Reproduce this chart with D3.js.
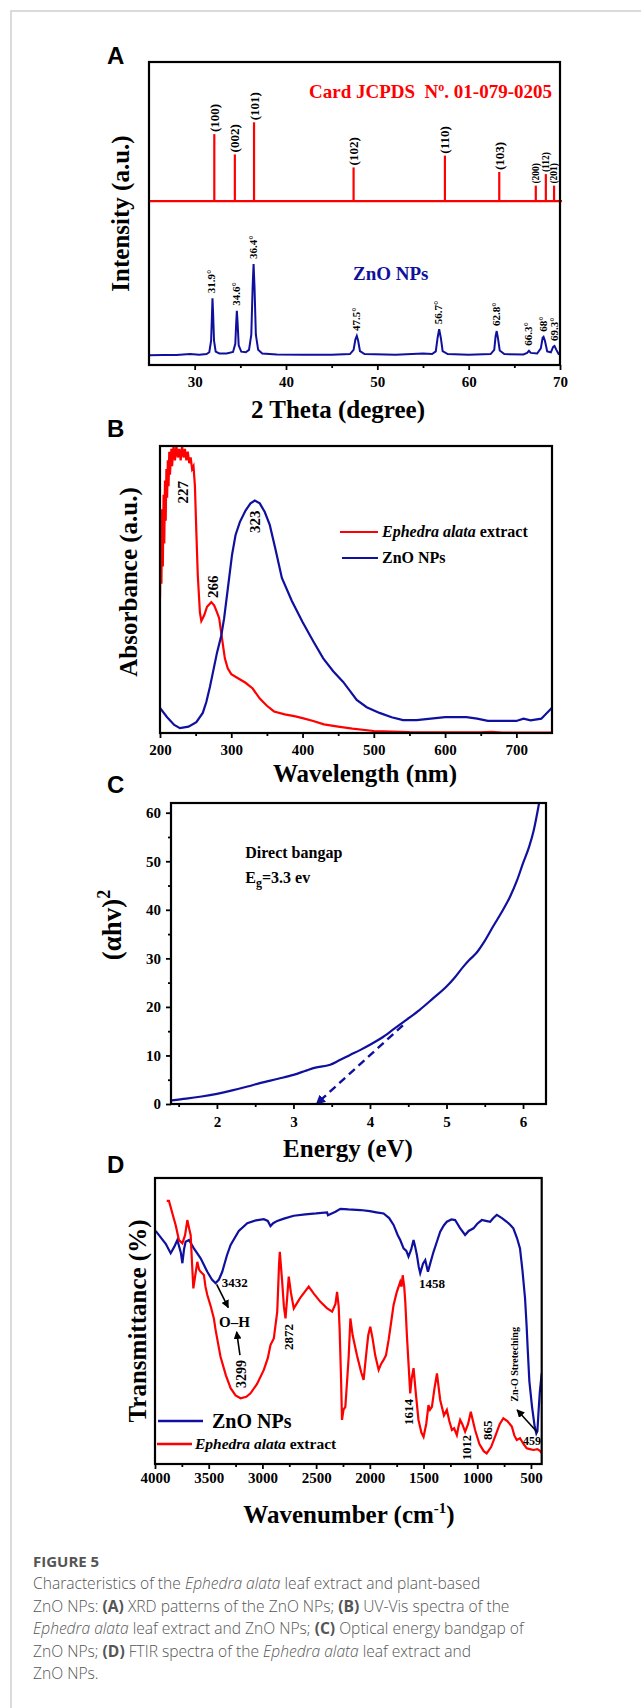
<html>
<head>
<meta charset='utf-8' />
<title>Figure 5</title>
<script src="https://cdn.jsdelivr.net/npm/d3@7"></script>
<style>
	body { margin: 0; background: #fff; }
	text { font-family: "Liberation Serif", "Times New Roman", serif; font-weight: bold; }
	.letter { font-family: "Liberation Sans", Arial, sans-serif; font-size: 24px; }
	.cap { font-family: "Open Sans", "Noto Sans", sans-serif; font-weight: 300; fill: #555; }
</style>
</head>
<body>
<script>

// ---------- A: XRD ----------
var cardPos = [32.15, 34.4, 36.5, 47.4, 57.4, 63.35, 67.35, 68.45, 69.35];
var cardHeight = [22.1, 15.4, 26, 11.1, 15, 9.6, 5.1, 8.9, 5.1];
var cardHkl = ["(100)", "(002)", "(101)", "(102)", "(110)", "(103)", "(200)", "(112)", "(201)"];
var cardBase = 54.1;

var xrdZnO = [[25,3.2],[26.5,3.3],[28,3.3],[29.5,3.6],[30.5,3.4],[31.3,3.6],[31.6,4.2],[31.8,8],[31.9,17],[31.95,22],[32.02,17],[32.12,8],[32.3,4.4],[32.7,3.8],[33.5,3.8],[34.2,4.3],[34.45,7],[34.55,14],[34.62,17.9],[34.7,14],[34.82,6.5],[35.1,4.4],[35.6,4.2],[35.95,5],[36.2,10],[36.35,26],[36.45,33.3],[36.55,26],[36.7,10],[36.95,5],[37.4,3.8],[39,3.5],[42,3.4],[45,3.4],[47,3.6],[47.4,5],[47.6,8.5],[47.75,9.6],[47.9,8],[48.1,4.6],[48.6,3.6],[52,3.4],[55,3.8],[56,3.6],[56.4,4.5],[56.6,9],[56.77,11.8],[56.95,9],[57.15,4.6],[57.7,3.6],[60,3.4],[62.4,3.6],[62.8,5],[62.95,9.5],[63.07,11.2],[63.2,9],[63.4,4.8],[63.9,3.6],[66,3.5],[66.4,4],[66.6,4.7],[66.8,4],[67.5,3.8],[67.9,5.5],[68.1,9],[68.2,9.3],[68.35,8],[68.6,4.5],[69,4.2],[69.25,6],[69.4,6.3],[69.6,5],[69.85,3.6],[70,3.4]];
var xrdPeakX = [31.95, 34.62, 36.45, 47.75, 56.77, 63.07, 66.6, 68.2, 69.4];
var xrdPeakY = [22, 17.9, 33.3, 9.6, 11.8, 11.2, 4.7, 9.3, 6.3];
var xrdPeakLabel = ["31.9°", "34.6°", "36.4°", "47.5°", "56.7°", "62.8°", "66.3°", "68°", "69.3°"];
var xrdTicks = [30, 40, 50, 60, 70];
var xrdMinor = [35, 45, 55, 65];

// ---------- B: UV-Vis ----------
var uvExtract = [[200,0.47],[201,0.70],[202,0.52],[203,0.78],[204,0.58],[205,0.83],[206,0.66],[207,0.88],[208,0.74],[209,0.92],[210,0.82],[211,0.95],[212,0.86],[213,0.98],[214,0.90],[216,0.99],[217,0.93],[219,1.0],[221,0.95],[223,1.0],[225,0.96],[227,0.99],[229,0.95],[231,1.0],[233,0.96],[235,0.99],[237,0.95],[239,0.98],[241,0.94],[243,0.96],[245,0.92],[247,0.93],[249,0.86],[251,0.70],[253,0.55],[256,0.42],[258,0.39],[262,0.41],[266,0.44],[272,0.456],[276,0.445],[280,0.42],[283,0.40],[287,0.33],[291,0.26],[295,0.225],[300,0.205],[310,0.19],[320,0.175],[330,0.155],[340,0.12],[350,0.095],[360,0.075],[375,0.065],[390,0.058],[400,0.052],[415,0.042],[430,0.03],[450,0.022],[470,0.015],[500,0.007],[550,0.003],[600,0.002],[650,0.002],[665,0.004],[680,0.001],[750,0.001]];
var uvZnO = [[200,0.087],[210,0.055],[220,0.028],[228,0.017],[240,0.022],[251,0.038],[260,0.07],[265,0.108],[270,0.16],[275,0.22],[280,0.28],[286,0.34],[290,0.40],[295,0.50],[301,0.62],[306,0.69],[312,0.735],[320,0.775],[327,0.80],[333,0.81],[340,0.80],[347,0.77],[354,0.725],[362,0.64],[371,0.54],[385,0.46],[400,0.387],[415,0.32],[429,0.26],[443,0.215],[457,0.178],[467,0.145],[476,0.115],[490,0.09],[508,0.07],[525,0.055],[541,0.045],[560,0.045],[580,0.05],[600,0.055],[630,0.055],[645,0.05],[660,0.042],[700,0.042],[710,0.05],[720,0.044],[735,0.05],[750,0.088]];
var uvLabels = [["227", 232.7, 0.80], ["266", 274.8, 0.47], ["323", 333.3, 0.697]];
var uvTicks = [200, 300, 400, 500, 600, 700];
var uvMinor = [250, 350, 450, 550, 650];

// ---------- C: Tauc ----------
var tauc = [[1.41,0.75],[1.6,1.1],[1.8,1.55],[2.0,2.1],[2.2,2.8],[2.4,3.6],[2.56,4.3],[2.8,5.2],[3.0,6.0],[3.15,6.8],[3.26,7.4],[3.48,8.1],[3.6,9.0],[3.74,10.1],[3.87,11.1],[4.0,12.2],[4.15,13.6],[4.3,15.3],[4.48,17.4],[4.65,19.4],[4.82,21.7],[5.0,24.2],[5.1,25.9],[5.22,28.3],[5.3,29.7],[5.39,31.1],[5.5,33.6],[5.61,36.6],[5.72,39.5],[5.83,42.7],[5.92,46],[6.0,49.6],[6.08,53],[6.14,56.4],[6.21,62]];
var taucFit = [[4.43,16.2],[3.3,0]];
var taucXTicks = [2, 3, 4, 5, 6];
var taucXMinor = [1.5, 2.5, 3.5, 4.5, 5.5];
var taucYTicks = [0, 10, 20, 30, 40, 50, 60];
var taucYMinor = [5, 15, 25, 35, 45, 55];

// ---------- D: FTIR ----------
var ftirZnO = [[3994,81.5],[3900,77],[3854,73.7],[3820,76],[3792,78.3],[3760,74],[3745,70.2],[3730,75],[3715,77.7],[3684,78.3],[3638,75.4],[3575,71.9],[3513,67.2],[3470,64.5],[3436,63.2],[3405,64.5],[3374,67.2],[3330,73],[3296,76.6],[3220,81.5],[3141,84.2],[3060,85.2],[2987,85.6],[2950,85],[2925,83.2],[2900,84.2],[2862,85],[2800,85.8],[2708,86.8],[2600,87.3],[2500,87.6],[2398,88],[2390,87],[2360,87.5],[2320,88.2],[2274,89.2],[2200,89],[2088,88.8],[2000,88.4],[1940,88],[1872,87.6],[1820,86],[1779,83.6],[1740,80],[1717,78.3],[1686,75.4],[1660,74.5],[1640,72.5],[1615,75],[1593,78.3],[1578,76],[1562,73.1],[1545,69],[1531,66.7],[1505,70],[1484,71.3],[1470,69],[1459,67.2],[1435,70.5],[1407,74.2],[1375,77.8],[1345,81.2],[1310,83.5],[1283,84.7],[1240,85.5],[1206,85.3],[1160,82.5],[1113,80.1],[1080,81.5],[1035,82.4],[1000,84],[957,85.3],[920,85],[880,84.7],[850,86],[818,87.1],[770,86],[725,84.7],[690,83.5],[664,82.4],[630,79],[602,75.4],[580,68],[555,57.9],[540,48],[530,40],[515,29],[490,20],[465,13],[450,10.7],[440,11.5],[430,18],[418,25],[410,28],[400,31.7]];
var ftirExtract = [[3891,92],[3870,92],[3838,87.6],[3808,83.6],[3777,78.3],[3745,77.2],[3720,80],[3699,85.3],[3680,82],[3668,80.1],[3655,70],[3643,61.4],[3625,66],[3606,70.7],[3590,68],[3575,67.2],[3545,66.1],[3530,62],[3513,59.1],[3480,55],[3452,50.9],[3436,46.9],[3390,37.5],[3340,31],[3296,26.5],[3250,24],[3203,23],[3150,23.5],[3111,24.7],[3050,28],[2987,32.9],[2950,37],[2925,41.6],[2894,43.9],[2862,53.3],[2845,70],[2838,74.2],[2816,63.7],[2800,55],[2785,50.9],[2770,58],[2755,65.5],[2735,60],[2708,54.4],[2650,58],[2569,62],[2520,59.5],[2460,56.7],[2400,54.5],[2351,53.3],[2320,56],[2305,60.2],[2290,55],[2281,46.9],[2268,30],[2259,15.4],[2245,19],[2228,20],[2210,30],[2197,37.5],[2181,50.9],[2160,45],[2120,38],[2080,32],[2058,29.4],[2035,38],[2015,45],[1996,48],[1975,44],[1950,38],[1918,32.9],[1895,35],[1872,36.4],[1850,38],[1825,43.4],[1800,50],[1779,55.6],[1750,60],[1717,63.7],[1705,62],[1694,66],[1680,62],[1670,56.7],[1655,45],[1640,35.2],[1624,24.7],[1610,30],[1593,33.5],[1570,24],[1547,15.4],[1520,11],[1500,9.5],[1475,14],[1454,20.6],[1440,19],[1422,20],[1400,26],[1375,31.7],[1360,27],[1345,22.4],[1310,17],[1283,18.9],[1260,15],[1236,11.9],[1215,12.5],[1190,10.1],[1175,13],[1159,15.4],[1140,14],[1113,11.3],[1085,14],[1060,18.3],[1040,15],[1020,11.9],[980,7],[940,4.5],[912,3.7],[870,6],[820,11],[790,14],[757,16],[720,15],[678,13.1],[655,10],[632,8.4],[602,9],[570,7],[540,5.5],[510,5.2],[478,4.9],[440,5.2],[416,4.6],[400,3.8]];
var ftirFlatLabels = [["3432", 3379, 61.9, 13], ["O–H", 3404, 48, 15], ["1458", 1542, 61.6, 13], ["459", 574, 6.6, 12]];
var ftirVertLabels = [["3299", 3193, 26.6, 14], ["2872", 2759, 39.9, 13], ["1614", 1642, 13.6, 13], ["1012", 1093, 1.4, 12.5], ["865", 903, 8.4, 13], ["Zn-O Streteching", 649, 21.8, 10]];
var ftirArrows = [[3426, 62.8, 3318, 54.7], [3209, 38.1, 3240, 46.2], [443, 11.2, 629, 18.9]];
var ftirTicks = [4000, 3500, 3000, 2500, 2000, 1500, 1000, 500];
var ftirMinor = [3750, 3250, 2750, 2250, 1750, 1250, 750];

var RED = "#ff0000", BLUE = "#10109e";

var svg = d3.select("body").append("svg").attr("width", 641).attr("height", 1708);

// page border
svg.append("path").attr("d", "M11,1708 L11,11 L641,11").attr("fill", "none").attr("stroke", "#cfcfcf").attr("stroke-width", 1.5);

var frame = function(g, w, h) {
	g.append("rect").attr("width", w).attr("height", h).attr("fill", "none").attr("stroke", "#000").attr("stroke-width", 2.2);
}
var styleAxis = function(a) {
	a.select(".domain").remove();
	a.selectAll("line").attr("stroke-width", 1.8);
	a.selectAll("text").attr("font-family", "Liberation Serif, Times New Roman, serif").attr("font-weight", "bold").attr("font-size", 15).attr("fill", "#000");
}
var xAxis = function(g, x, h, ticks, minors, pad, fmt) {
	var a = g.append("g").attr("transform", `translate(0,${h})`)
		.call(d3.axisBottom(x).tickValues(ticks).tickSize(5).tickPadding(pad).tickFormat(fmt || d3.format("d")));
	styleAxis(a);
	var m = g.append("g").attr("transform", `translate(0,${h})`)
		.call(d3.axisBottom(x).tickValues(minors).tickSize(3).tickFormat(""));
	styleAxis(m);
}
var vtext = function(g, x, y, t, size, fill) {
	return g.append("text").attr("transform", `translate(${x},${y}) rotate(-90)`)
		.attr("dominant-baseline", "central").attr("font-size", size).attr("fill", fill || "#000").text(t);
}
var ytitle = function(g, x, y, t) {
	return g.append("text").attr("transform", `translate(${x},${y}) rotate(-90)`)
		.attr("text-anchor", "middle").attr("font-size", 25).text(t);
}

svg.append("defs").append("marker").attr("id", "arr").attr("viewBox", "0 0 10 10")
	.attr("refX", 9).attr("refY", 5).attr("markerWidth", 5).attr("markerHeight", 5).attr("orient", "auto")
	.append("path").attr("d", "M0,0 L10,5 L0,10 z").attr("fill", "#000");
svg.select("defs").append("marker").attr("id", "arrB").attr("viewBox", "0 0 10 10")
	.attr("refX", 9).attr("refY", 5).attr("markerWidth", 4).attr("markerHeight", 4).attr("orient", "auto")
	.append("path").attr("d", "M0,0 L10,5 L0,10 z").attr("fill", BLUE);

// ================= A =================
(function() {
	var L = 149, T = 62, w = 411, h = 303;
	svg.append("text").attr("class", "letter").attr("x", 107).attr("y", 64).text("A");
	var g = svg.append("g").attr("transform", `translate(${L},${T})`);
	var x = d3.scaleLinear().domain([25, 70]).range([0, w]);
	var y = d3.scaleLinear().domain([0, 100]).range([h, 0]);

	// card lines
	g.append("line").attr("x1", 0).attr("x2", w + 2).attr("y1", y(cardBase)).attr("y2", y(cardBase))
		.attr("stroke", RED).attr("stroke-width", 2.2);
	g.selectAll(".card").data(cardPos).enter().append("line")
		.attr("x1", d => x(d)).attr("x2", d => x(d))
		.attr("y1", y(cardBase)).attr("y2", (d, i) => y(cardBase + cardHeight[i]))
		.attr("stroke", RED).attr("stroke-width", 2.2);
	cardPos.forEach(function(d, i) {
		var small = i >= 6;
		vtext(g, x(d), y(cardBase + cardHeight[i]) - 2, cardHkl[i], small ? 9.5 : 13);
	});
	g.append("text").attr("x", w - 8).attr("y", 36).attr("text-anchor", "end").attr("font-size", 19)
		.attr("fill", RED).style("white-space", "pre")
		.text("Card JCPDS  N")
		.append("tspan").attr("font-size", 12).attr("dy", -7).text("o")
		.select(function() { return this.parentNode; })
		.append("tspan").attr("dy", 7).text(". 01-079-0205");

	var line = d3.line().x(d => x(d[0])).y(d => y(d[1]));
	g.append("path").datum(xrdZnO).attr("d", line).attr("fill", "none").attr("stroke", BLUE).attr("stroke-width", 2);
	xrdPeakX.forEach(function(d, i) {
		vtext(g, x(d) - 1, y(xrdPeakY[i]) - 5, xrdPeakLabel[i], 11);
	});
	g.append("text").attr("x", 204).attr("y", 218).attr("font-size", 19).attr("fill", BLUE).text("ZnO NPs");

	frame(g, w, h);
	xAxis(g, x, h, xrdTicks, xrdMinor, 6);
	g.append("text").attr("x", 189).attr("y", 356).attr("text-anchor", "middle").attr("font-size", 25).text("2 Theta (degree)");
	ytitle(g, -20, h / 2, "Intensity (a.u.)");
})();

// ================= B =================
(function() {
	var L = 160, T = 446, w = 392, h = 287;
	svg.append("text").attr("class", "letter").attr("x", 107).attr("y", 437).text("B");
	var g = svg.append("g").attr("transform", `translate(${L},${T})`);
	var x = d3.scaleLinear().domain([200, 750]).range([0, w]);
	var y = d3.scaleLinear().domain([0, 1]).range([h, 0]);
	g.append("clipPath").attr("id", "clipB").append("rect").attr("width", w).attr("height", h);
	var line = d3.line().x(d => x(d[0])).y(d => y(d[1]));
	var cg = g.append("g").attr("clip-path", "url(#clipB)");
	cg.append("path").datum(uvExtract).attr("d", line).attr("fill", "none").attr("stroke", RED).attr("stroke-width", 2.2);
	cg.append("path").datum(uvZnO).attr("d", line).attr("fill", "none").attr("stroke", BLUE).attr("stroke-width", 2.2);
	uvLabels.forEach(function(d) { vtext(g, x(d[1]), y(d[2]), d[0], 15); });

	// legend
	g.append("line").attr("x1", 180).attr("x2", 218).attr("y1", 86).attr("y2", 86).attr("stroke", RED).attr("stroke-width", 2.2);
	g.append("line").attr("x1", 182).attr("x2", 218).attr("y1", 112).attr("y2", 112).attr("stroke", BLUE).attr("stroke-width", 2.2);
	var t1 = g.append("text").attr("x", 222).attr("y", 91).attr("font-size", 16);
	t1.append("tspan").attr("font-style", "italic").text("Ephedra alata");
	t1.append("tspan").text(" extract");
	g.append("text").attr("x", 222).attr("y", 117).attr("font-size", 16).text("ZnO NPs");

	frame(g, w, h);
	xAxis(g, x, h, uvTicks, uvMinor, 6);
	g.append("text").attr("x", 205).attr("y", 336).attr("text-anchor", "middle").attr("font-size", 25).text("Wavelength (nm)");
	ytitle(g, -23, 136, "Absorbance (a.u.)");
})();

// ================= C =================
(function() {
	var L = 171, T = 803, w = 375, h = 301;
	svg.append("text").attr("class", "letter").attr("x", 107).attr("y", 793).text("C");
	var g = svg.append("g").attr("transform", `translate(${L},${T})`);
	var x = d3.scaleLinear().domain([1.4, 6.3]).range([0, w]);
	var y = d3.scaleLinear().domain([0, 62]).range([h, 0]);
	g.append("clipPath").attr("id", "clipC").append("rect").attr("width", w).attr("height", h);
	var line = d3.line().curve(d3.curveMonotoneX).x(d => x(d[0])).y(d => y(d[1]));
	g.append("g").attr("clip-path", "url(#clipC)").append("path").datum(tauc).attr("d", line)
		.attr("fill", "none").attr("stroke", BLUE).attr("stroke-width", 2.2);
	g.append("line").attr("x1", x(taucFit[0][0])).attr("y1", y(taucFit[0][1]))
		.attr("x2", x(taucFit[1][0])).attr("y2", y(taucFit[1][1]))
		.attr("stroke", BLUE).attr("stroke-width", 2.4).attr("stroke-dasharray", "8,5")
		.attr("marker-end", "url(#arrB)");

	g.append("text").attr("x", x(2.37)).attr("y", y(50.7)).attr("font-size", 16).text("Direct bangap");
	var eg = g.append("text").attr("x", x(2.37)).attr("y", y(45.5)).attr("font-size", 16);
	eg.append("tspan").text("E");
	eg.append("tspan").attr("font-size", 12).attr("dy", 4).text("g");
	eg.append("tspan").attr("dy", -4).text("=3.3 ev");

	frame(g, w, h);
	xAxis(g, x, h, taucXTicks, taucXMinor, 7);
	var a = g.append("g").call(d3.axisLeft(y).tickValues(taucYTicks).tickSize(5).tickPadding(5));
	styleAxis(a);
	var m = g.append("g").call(d3.axisLeft(y).tickValues(taucYMinor).tickSize(3).tickFormat(""));
	styleAxis(m);
	g.append("text").attr("x", 177).attr("y", 354).attr("text-anchor", "middle").attr("font-size", 25).text("Energy (eV)");
	var yt = g.append("text").attr("transform", `translate(-50,122) rotate(-90)`).attr("text-anchor", "middle").attr("font-size", 27);
	yt.append("tspan").text("(αhv)");
	yt.append("tspan").attr("font-size", 18).attr("dy", -11).text("2");
})();

// ================= D =================
(function() {
	var L = 155, T = 1178, w = 386.7, h = 286;
	svg.append("text").attr("class", "letter").attr("x", 107).attr("y", 1173).text("D");
	var g = svg.append("g").attr("transform", `translate(${L},${T})`);
	var x = d3.scaleLinear().domain([4000, 400]).range([0, w]);
	var y = d3.scaleLinear().domain([0, 100]).range([h, 0]);
	g.append("clipPath").attr("id", "clipD").append("rect").attr("width", w).attr("height", h);
	var line = d3.line().x(d => x(d[0])).y(d => y(d[1]));
	var cg = g.append("g").attr("clip-path", "url(#clipD)");
	cg.append("path").datum(ftirZnO).attr("d", line).attr("fill", "none").attr("stroke", BLUE).attr("stroke-width", 2.2);
	cg.append("path").datum(ftirExtract).attr("d", line).attr("fill", "none").attr("stroke", RED).attr("stroke-width", 2.2);

	ftirFlatLabels.forEach(function(d) {
		g.append("text").attr("x", x(d[1])).attr("y", y(d[2])).attr("font-size", d[3]).text(d[0]);
	});
	ftirVertLabels.forEach(function(d) { vtext(g, x(d[1]), y(d[2]), d[0], d[3]); });
	ftirArrows.forEach(function(d) {
		g.append("line").attr("x1", x(d[0])).attr("y1", y(d[1])).attr("x2", x(d[2])).attr("y2", y(d[3]))
			.attr("stroke", "#000").attr("stroke-width", 1.6).attr("marker-end", "url(#arr)");
	});

	// legend
	g.append("line").attr("x1", 3).attr("x2", 48).attr("y1", 243).attr("y2", 243).attr("stroke", BLUE).attr("stroke-width", 2.4);
	g.append("text").attr("x", 57).attr("y", 250).attr("font-size", 20).text("ZnO NPs");
	g.append("line").attr("x1", 2).attr("x2", 37).attr("y1", 266).attr("y2", 266).attr("stroke", RED).attr("stroke-width", 2.4);
	var t1 = g.append("text").attr("x", 40).attr("y", 271).attr("font-size", 15.5);
	t1.append("tspan").attr("font-style", "italic").text("Ephedra alata");
	t1.append("tspan").text(" extract");

	frame(g, w, h);
	xAxis(g, x, h, ftirTicks, ftirMinor, 3);
	var xt = g.append("text").attr("x", 194).attr("y", 345).attr("text-anchor", "middle").attr("font-size", 25);
	xt.append("tspan").text("Wavenumber (cm");
	xt.append("tspan").attr("font-size", 15).attr("dy", -10).text("-1");
	xt.append("tspan").attr("dy", 10).text(")");
	ytitle(g, -9, 143, "Transmittance (%)");
})();

// ================= caption =================
var capLines = [
	[["FIGURE 5", "b"]],
	[["Characteristics of the ", ""], ["Ephedra alata", "i"], [" leaf extract and plant-based", ""]],
	[["ZnO NPs: ", ""], ["(A)", "b"], [" XRD patterns of the ZnO NPs; ", ""], ["(B)", "b"], [" UV-Vis spectra of the", ""]],
	[["Ephedra alata", "i"], [" leaf extract and ZnO NPs; ", ""], ["(C)", "b"], [" Optical energy bandgap of", ""]],
	[["ZnO NPs; ", ""], ["(D)", "b"], [" FTIR spectra of the ", ""], ["Ephedra alata", "i"], [" leaf extract and", ""]],
	[["ZnO NPs.", ""]]
];
var capY = [1567, 1589, 1612, 1634, 1657, 1679];
capLines.forEach(function(ln, i) {
	var t = svg.append("text").attr("class", "cap").attr("x", 33).attr("y", capY[i]).attr("font-size", i == 0 ? 15 : 15.6).style("white-space", "pre");
	ln.forEach(function(s) {
		var sp = t.append("tspan").text(s[0]);
		if (s[1] == "b") sp.attr("font-weight", "bold");
		if (s[1] == "i") sp.attr("font-style", "italic");
	});
});

</script>
</body>
</html>
